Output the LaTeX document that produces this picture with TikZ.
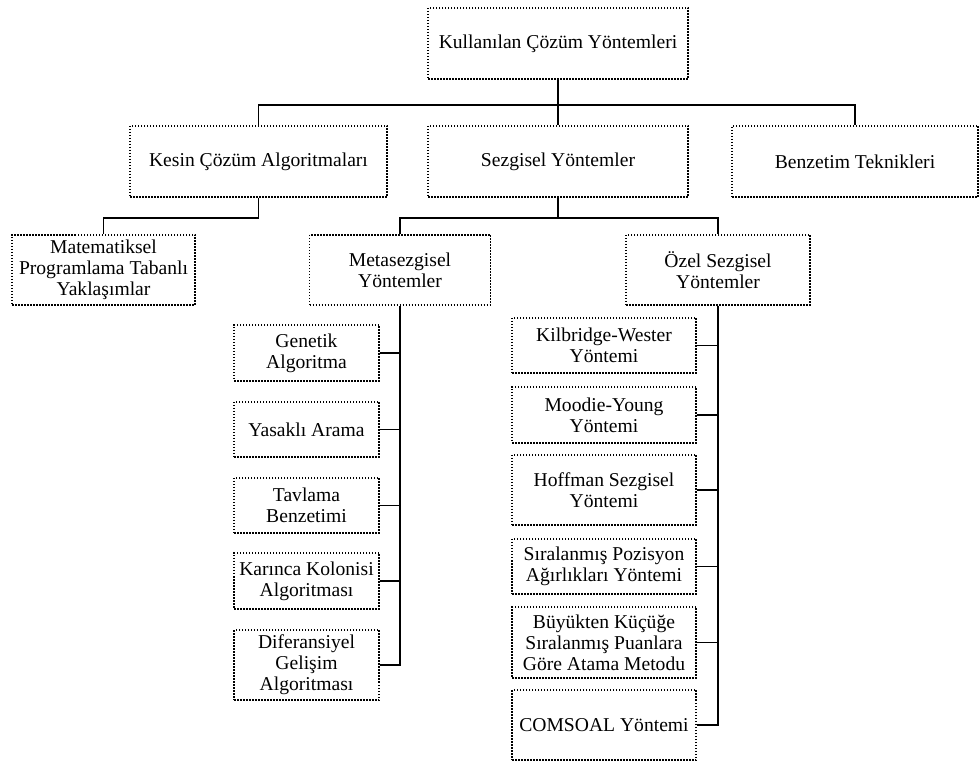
\documentclass[tikz,border=0pt]{standalone}
\usepackage{fontspec}
\setmainfont{Liberation Serif}
\usetikzlibrary{positioning,calc}

\begin{document}
\begin{tikzpicture}[
  x=0.5pt, y=-0.5pt,
  kutu/.style={rectangle, draw, line width=0.55pt,
               dash pattern=on 0.75pt off 0.75pt, align=center,
               font=\fontsize{9.8}{10.6}\selectfont, inner sep=1pt},
  sol/.style={kutu, minimum width=72.5pt},
  sag/.style={kutu, minimum width=92pt},
  hat/.style={draw, line width=0.8pt},
]
  \useasboundingbox (0,0) rectangle (979,763);

  % top levels
  \node[kutu, minimum width=130pt, minimum height=35.5pt] (kok) at (558,43.5)
       {Kullanılan Çözüm Yöntemleri};
  \node[kutu, minimum width=128.5pt, minimum height=35.5pt] (kesin) at (258.5,161.5)
       {Kesin Çözüm Algoritmaları};
  \node[kutu, minimum width=130pt, minimum height=35.5pt] (sezgisel) at (558,161.5)
       {Sezgisel Yöntemler};
  \node[kutu, minimum width=123pt, minimum height=35.5pt] (benzetim) at (855,161.5)
       {Benzetim Teknikleri};

  \node[kutu, minimum width=91.5pt, minimum height=35pt] (matem) at (103.5,270)
       {Matematiksel\\ Programlama Tabanlı\\ Yaklaşımlar};
  \node[kutu, minimum width=90.5pt, minimum height=35pt] (meta) at (400,270)
       {Metasezgisel\\ Yöntemler};
  \node[kutu, minimum width=92pt, minimum height=35pt] (ozel) at (718,270)
       {Özel Sezgisel\\ Yöntemler};

  % metasezgisel column
  \node[sol, minimum height=28pt] (genetik) at (306.5,353) {Genetik\\ Algoritma};
  \node[sol, minimum height=27.5pt] (yasakli) at (306.5,429.5) {Yasaklı Arama};
  \node[sol, minimum height=27.5pt] (tavlama) at (306.5,505.5) {Tavlama\\ Benzetimi};
  \node[sol, minimum height=28pt] (karinca) at (306.5,581) {Karınca Kolonisi\\ Algoritması};
  \node[sol, minimum height=35pt] (diferansiyel) at (306.5,665)
       {Diferansiyel\\ Gelişim\\ Algoritması};

  % ozel sezgisel column
  \node[sag, minimum height=27.5pt] (kilbridge) at (604,345.5) {Kilbridge-Wester\\ Yöntemi};
  \node[sag, minimum height=28pt] (moodie) at (604,415) {Moodie-Young\\ Yöntemi};
  \node[sag, minimum height=35pt] (hoffman) at (604,490) {Hoffman Sezgisel\\ Yöntemi};
  \node[sag, minimum height=27.5pt] (siralanmis) at (604,566.5)
       {Sıralanmış Pozisyon\\ Ağırlıkları Yöntemi};
  \node[sag, minimum height=35.5pt] (buyukten) at (604,642.5)
       {Büyükten Küçüğe\\ Sıralanmış Puanlara\\ Göre Atama Metodu};
  \node[sag, minimum height=35pt] (comsoal) at (604,725) {COMSOAL Yöntemi};

  % bus points
  \coordinate (kokbus) at (558,105);
  \coordinate (kesinbus) at (258.5,218);
  \coordinate (sezbus) at (558,218);

  % connectors
  \draw[hat] (kok.south) -- (kokbus);
  \draw[hat] (kesin.north) |- (kokbus) -| (benzetim.north);
  \draw[hat] (sezgisel.north) -- (kokbus);

  \draw[hat] (kesin.south) -- (kesinbus) -| (matem.north);
  \draw[hat] (sezgisel.south) -- (sezbus);
  \draw[hat] (meta.north) |- (sezbus) -| (ozel.north);

  \draw[hat] (meta.south) |- (diferansiyel.east);
  \foreach \n in {genetik,yasakli,tavlama,karinca}
    \draw[hat] (\n.east) -- (\n.east -| meta.south);

  \draw[hat] (ozel.south) |- (comsoal.east);
  \foreach \n in {kilbridge,moodie,hoffman,siralanmis,buyukten}
    \draw[hat] (\n.east) -- (\n.east -| ozel.south);

\end{tikzpicture}
\end{document}
